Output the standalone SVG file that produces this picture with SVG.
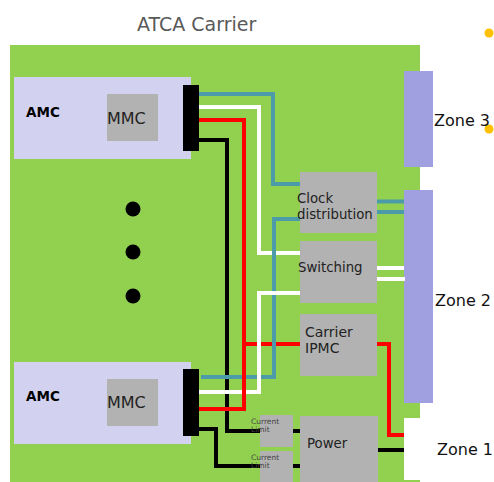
<svg xmlns="http://www.w3.org/2000/svg" width="494" height="482" viewBox="0 0 494 482">
<style>
text{font-family:"DejaVu Sans",Verdana,sans-serif;fill:#222}
.g{fill:#b2b2b2}
.amc{fill:#d2d2f0}
.zone{fill:#a0a0e0}
.c{fill:#000}
.ln{fill:none;stroke-width:4;stroke-linejoin:miter}
.t{stroke:#4b9ba8}.w{stroke:#fff}.r{stroke:#f00}.k{stroke:#000}
.lbl{font-size:13.300px}
.lbl2{font-size:14px}
.z{font-size:16px;fill:#111}
.amct{font-size:13.500px;font-weight:bold;fill:#000}
.mmc{font-size:16px}
.cur{font-size:7.500px;fill:#444}
</style>
<rect id="carrier" x="10" y="45" width="410" height="437" fill="#92d050"/>
<text id="title" x="137" y="31" style="font-size:19px;fill:#595959">ATCA Carrier</text>
<g id="amc-top"><rect class="amc" x="14" y="77" width="177" height="82"/><text class="amct" x="26" y="117">AMC</text></g>
<g id="mmc-top"><rect class="g" x="107" y="94" width="51" height="47"/><text class="mmc" x="107" y="124">MMC</text></g>
<g id="amc-bottom"><rect class="amc" x="14" y="362" width="177" height="82"/><text class="amct" x="26" y="401">AMC</text></g>
<g id="mmc-bottom"><rect class="g" x="107" y="379" width="51" height="47"/><text class="mmc" x="107" y="408">MMC</text></g>
<g id="dots"><circle cx="133" cy="209" r="7.5"/><circle cx="133" cy="252" r="7.5"/><circle cx="133" cy="296" r="7.5"/></g>
<g id="orange-dots" fill="#ffc000"><circle cx="489" cy="33" r="4.5"/><circle cx="489" cy="129" r="4.5"/></g>
<g id="zone3"><rect class="zone" x="404" y="71" width="29" height="96"/><text class="z" x="434" y="126">Zone 3</text></g>
<g id="zone2"><rect class="zone" x="404" y="190" width="29" height="213"/><text class="z" x="435" y="306">Zone 2</text></g>
<g id="zone1"><rect x="404" y="418" width="29" height="62" fill="#fff"/><text class="z" x="437" y="455">Zone 1</text></g>
<g id="connectors">
<path class="ln t" d="M198 94H273V184H300"/>
<path class="ln w" d="M199 107H259V253H300"/>
<path class="ln r" d="M199 120H244V344H300"/>
<path class="ln k" d="M199 140H227V431H260"/>
<path class="ln t" d="M201 377H274V219H300"/>
<path class="ln w" d="M199 392H259V293H300"/>
<path class="ln r" d="M199 409H244V344"/>
<path class="ln k" d="M199 429H216V466H260"/>
<path class="ln k" d="M293 431H300M293 466H300M378 450H404"/>
<path class="ln t" d="M377 201.500H404M377 212H404"/>
<path class="ln w" d="M376 268H404M376 279H405"/>
<path class="ln r" d="M377 344H389V435H404"/>
</g>
<g id="conn-top"><rect class="c" x="183" y="85" width="16" height="66"/></g>
<g id="conn-bottom"><rect class="c" x="183" y="369" width="16" height="67"/></g>
<g id="clock"><rect class="g" x="300" y="172" width="77" height="61"/><text class="lbl" x="297" y="203">Clock</text><text class="lbl" x="297" y="219">distribution</text></g>
<g id="switching"><rect class="g" x="300" y="241" width="77" height="62"/><text class="lbl" x="298" y="272">Switching</text></g>
<g id="ipmc"><rect class="g" x="300" y="314" width="77" height="62"/><text class="lbl2" x="305" y="337">Carrier</text><text class="lbl2" x="305" y="353">IPMC</text></g>
<g id="power"><rect class="g" x="300" y="416" width="78" height="66"/><text class="lbl" x="307" y="448">Power</text></g>
<g id="limit1"><rect class="g" x="260" y="415" width="33" height="32"/><text class="cur" x="251" y="424">Current</text><text class="cur" x="251" y="432">Limit</text></g>
<g id="limit2"><rect class="g" x="260" y="451" width="33" height="31"/><text class="cur" x="251" y="460">Current</text><text class="cur" x="251" y="468">Limit</text></g>
</svg>
